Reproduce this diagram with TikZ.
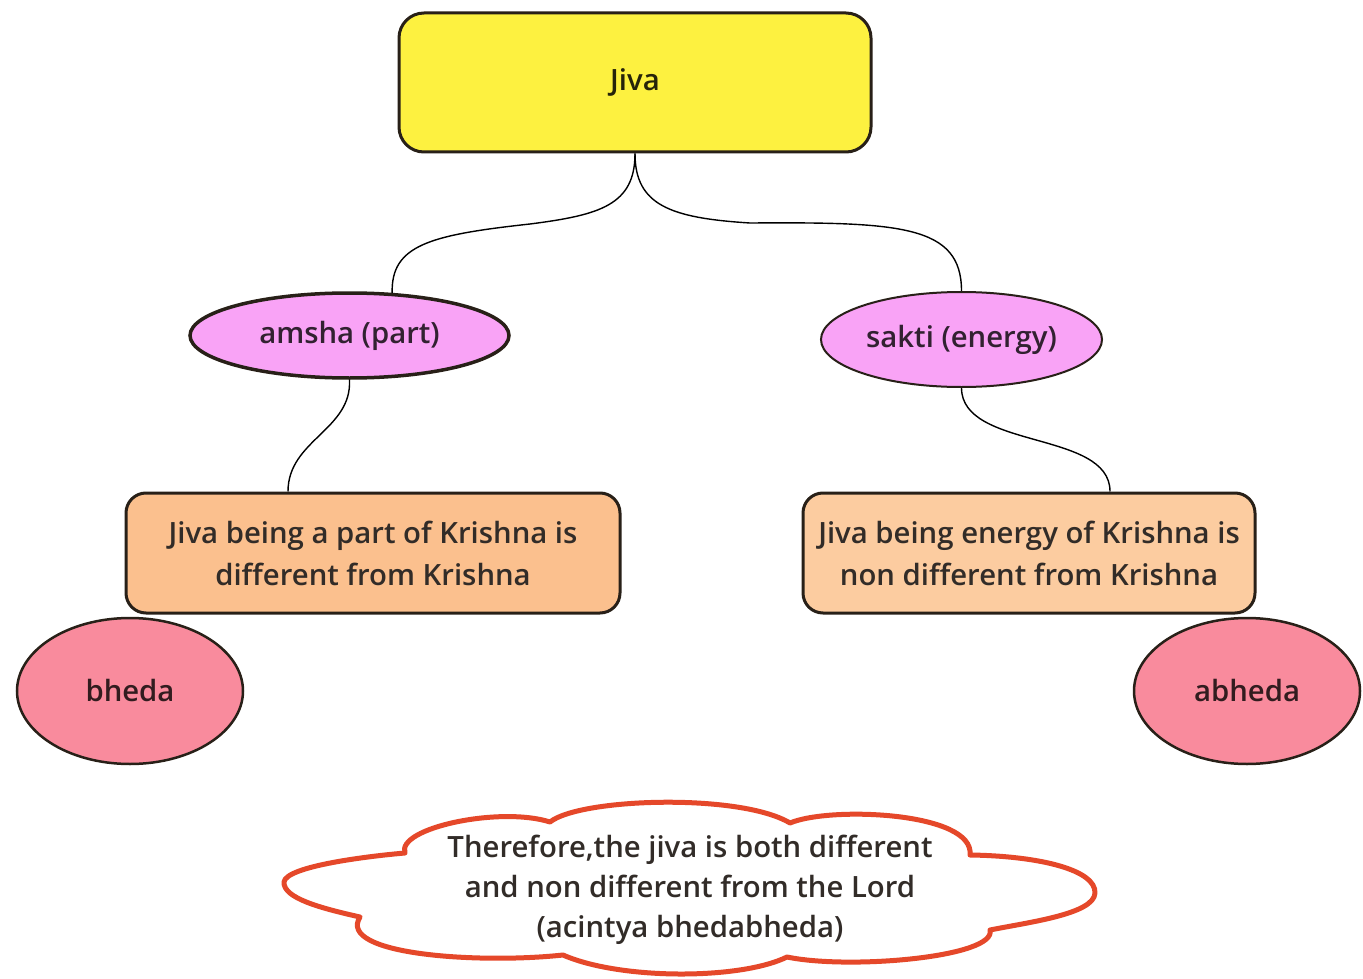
\documentclass[tikz,border=0pt]{standalone}
\usepackage{fontspec}
\setmainfont{Open Sans}[BoldFont={Open Sans Semibold}]
\usetikzlibrary{shapes.geometric}
\definecolor{jivafill}{RGB}{253,241,64}
\definecolor{pinkfill}{RGB}{249,163,246}
\definecolor{orangeL}{RGB}{251,192,142}
\definecolor{orangeR}{RGB}{252,204,160}
\definecolor{redfill}{RGB}{249,139,157}
\definecolor{edge}{RGB}{40,32,24}
\definecolor{cloudred}{RGB}{229,72,42}
\definecolor{txt}{RGB}{50,44,40}
\tikzset{
  lbl/.style={font=\bfseries\fontsize{29.3}{42}\selectfont, align=center},
  jivabox/.style={lbl, draw=edge, line width=3pt, fill=jivafill, rounded corners=25pt, minimum width=472pt, minimum height=139pt, inner sep=0pt, text=black!75!jivafill!60!black},
  midell/.style={lbl, ellipse, draw=edge, fill=pinkfill, inner sep=0pt, text=black!80!pinkfill},
  descbox/.style={lbl, draw=edge, line width=3pt, rounded corners=20pt, minimum height=120pt, inner sep=0pt, text=txt},
  endell/.style={lbl, ellipse, draw=edge, line width=2.5pt, fill=redfill, minimum width=226pt, minimum height=146pt, inner sep=0pt, text=black!80!redfill},
  conn/.style={draw=black, line width=1.4pt},
  cloudline/.style={draw=cloudred, line width=5pt, fill=white, line join=round}
}
\begin{document}
\begin{tikzpicture}[x=1pt,y=-1pt]
\useasboundingbox[fill=white] (0,0) rectangle (1363,979);
% nodes
\node[jivabox] (jiva) at (635,82.5) {Jiva};
\node[midell, line width=3.5pt, minimum width=319pt, minimum height=85pt] (amsha) at (349.5,335.5) {amsha (part)};
\node[midell, line width=2pt, minimum width=281pt, minimum height=95pt] (sakti) at (961.5,339.5) {sakti (energy)};
\node[descbox, fill=orangeL, minimum width=494pt] (lbox) at (373,553) {Jiva being a part of Krishna is\\different from Krishna};
\node[descbox, fill=orangeR, minimum width=452pt] (rbox) at (1029,553) {Jiva being energy of Krishna is\\non different from Krishna};
\node[endell] (bheda) at (130,691) {bheda};
\node[endell] (abheda) at (1247,691) {abheda};
% cloud
\path[cloudline] (284,882)
  .. controls (286,866) and (370,856) .. (405,853)
  .. controls (396,828) and (500,806) .. (550,822)
  .. controls (580,798) and (740,793) .. (790,823)
  .. controls (830,806) and (975,812) .. (970,855)
  .. controls (1040,856) and (1096,870) .. (1095,893)
  .. controls (1094,914) and (1030,922) .. (990,930)
  .. controls (997,957) and (850,970) .. (787,957)
  .. controls (740,980) and (620,980) .. (563,955)
  .. controls (480,964) and (336,955) .. (360,917)
  .. controls (320,908) and (283,898) .. (284,882) -- cycle;
\node[lbl, font=\bfseries\fontsize{29.3}{40}\selectfont, text=txt] (concl) at (690,890) {Therefore,the jiva is both different\\and non different from the Lord\\(acintya bhedabheda)};
% connectors
\draw[conn] (jiva.south) .. controls (635,205) and (600,215) .. (530,224)
  .. controls (430,235) and (391,245) .. (amsha.45);
\draw[conn] (jiva.south) .. controls (635,205) and (670,218) .. (750,223)
  .. controls (900,222) and (961.5,225) .. (sakti.north);
\draw[conn] (amsha.south) .. controls (352,430) and (288,440) .. ([xshift=-85pt]lbox.north);
\draw[conn] (sakti.south) .. controls (962,450) and (1110,430) .. ([xshift=81pt]rbox.north);
\end{tikzpicture}
\end{document}
